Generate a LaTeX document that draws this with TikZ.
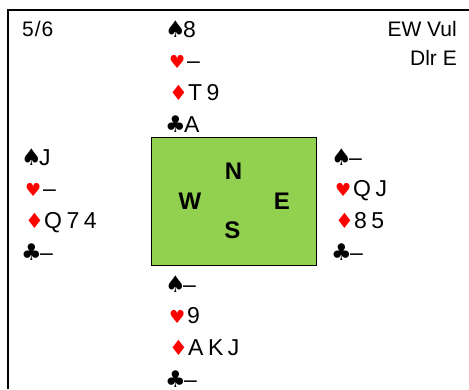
\documentclass[tikz,border=0pt]{standalone}
\usepackage{fontspec}
\setmainfont{Liberation Sans}
\newfontfamily\suitfont{DejaVu Sans}
\definecolor{tablegreen}{HTML}{92D050}
\definecolor{suitred}{HTML}{FF0000}
\newcommand\lsp{\kern4.5pt}
\tikzset{
  txt/.style={inner sep=0pt, font=\fontsize{21}{21}\selectfont},
  lbl/.style={txt, anchor=base west},
  lblr/.style={txt, anchor=base east},
  rank/.style={inner sep=0pt, anchor=base west, font=\fontsize{23}{23}\selectfont},
  blacksuit/.style={inner sep=0pt, anchor=base west, font=\suitfont\fontsize{23}{23}\selectfont},
  heartsuit/.style={blacksuit, text=suitred, font=\suitfont\fontsize{18}{18}\selectfont},
  diamsuit/.style={blacksuit, text=suitred, font=\suitfont\fontsize{21}{21}\selectfont},
  seat/.style={inner sep=0pt, font=\bfseries\fontsize{24}{24}\selectfont},
  frame/.style={line width=2pt}
}
\newcommand\bridgehand[7]{%
  \node[blacksuit] (#1s) at (#2-1,#3) {♠};
  \node[rank] (#1sr) at (#2+17,#3) {#4};
  \node[heartsuit] (#1h) at (#2+3,#3+31.7) {♥};
  \node[rank] (#1hr) at (#2+21,#3+31.7) {#5};
  \node[diamsuit] (#1d) at (#2+3,#3+63.4) {♦};
  \node[rank] (#1dr) at (#2+22,#3+63.4) {#6};
  \node[blacksuit] (#1c) at (#2-1,#3+95.1) {♣};
  \node[rank] (#1cr) at (#2+18,#3+95.1) {#7};
}
\begin{document}
\begin{tikzpicture}[x=1pt,y=-1pt]
\useasboundingbox (0,0) rectangle (469,389);
\coordinate (fbl) at (8,389);
\coordinate (ftl) at (8,10);
\coordinate (ftr) at (469,10);
\draw[frame] (fbl) -- (ftl) -- (ftr);
\node[lbl] (board) at (22,36) {5\kern1pt/\kern1pt6};
\node[lblr] (vul) at (457,36) {EW Vul};
\node[lblr] (dlr) at (457,65) {Dlr E};
\node[draw, line width=1.8pt, fill=tablegreen, minimum width=165pt, minimum height=128pt, inner sep=0pt] (table) at (234,201.5) {};
\node[seat] (N) at (233.5,171) {N};
\node[seat] (W) at (190,201) {W};
\node[seat] (E) at (282,201) {E};
\node[seat] (S) at (232.5,230) {S};
\bridgehand{north}{166}{37}{8}{–}{T\lsp9}{A}
\bridgehand{west}{22}{165}{J}{–}{Q\lsp7\lsp4}{–}
\bridgehand{east}{332}{165}{–}{Q\lsp J}{8\lsp5}{–}
\bridgehand{south}{166}{292}{–}{9}{A\lsp K\lsp J}{–}
\end{tikzpicture}
\end{document}
